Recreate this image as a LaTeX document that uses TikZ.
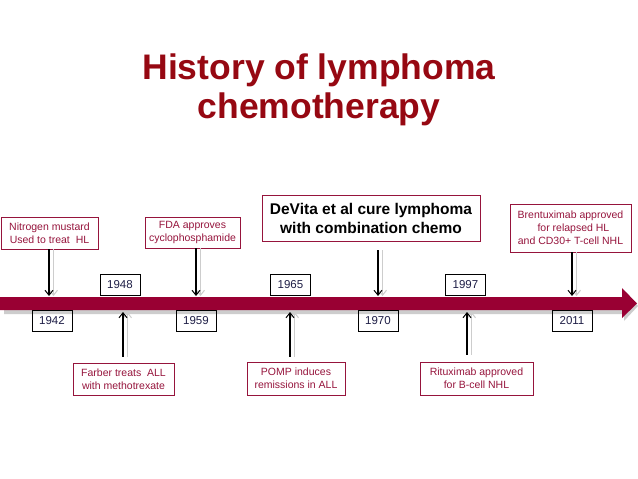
\documentclass[tikz,border=0pt]{standalone}
\usepackage{fontspec}
\setmainfont{Liberation Sans}
\usetikzlibrary{arrows.meta}
\definecolor{titlered}{RGB}{150,8,18}
\definecolor{barred}{RGB}{153,0,51}
\definecolor{evred}{RGB}{150,20,60}
\definecolor{yearblue}{RGB}{30,30,70}
\definecolor{shadowgray}{RGB}{205,205,205}
\tikzset{
  evbox/.style={draw=evred, line width=0.9pt, text=evred, inner sep=0pt, align=center,
    font=\fontsize{10.5}{13}\selectfont},
  yearbox/.style={draw=black, line width=0.9pt, text=yearblue, inner sep=0pt,
    minimum width=40pt, minimum height=21pt, font=\fontsize{11.5}{13}\selectfont},
  blackarrow/.style={draw=black, line width=1.8pt, -{Straight Barb[length=5pt,width=8pt,line width=1pt]}},
  grayarrow/.style={draw=shadowgray, line width=1.8pt, -{Straight Barb[length=5pt,width=8pt,line width=1pt]}},
  titlefont/.style={text=titlered, font=\fontsize{35.5}{39}\selectfont\bfseries, inner sep=0pt}
}
\begin{document}
\begin{tikzpicture}[x=1pt,y=-1pt]
\useasboundingbox (0,0) rectangle (638,479);
\fill[white] (0,0) rectangle (638,479);
% title
\node[titlefont, anchor=base] (title1) at (319,79) {History of lymphoma};
\node[titlefont, anchor=base] (title2) at (319,118) {chemotherapy};
% timeline bar with shadow
\fill[shadowgray] (4,309) -- (624,309) -- (624,321) -- (638,306) -- (626,292) -- (626,314) -- (4,314) -- cycle;
\fill[barred] (0,297) -- (622,297) -- (622,288) -- (637,303.5) -- (622,318) -- (622,310) -- (0,310) -- cycle;
% event boxes
\node[evbox, minimum width=97pt, minimum height=32pt] (nitro) at (49.5,233) {Nitrogen mustard\\Used to treat\ \ HL};
\node[evbox, minimum width=95pt, minimum height=31pt] (fda) at (192.5,232.5) {FDA approves\\cyclophosphamide};
\node[evbox, minimum width=218pt, minimum height=46pt, text=black, font=\fontsize{15.5}{19}\selectfont\bfseries] (devita) at (371,218) {DeVita et al cure lymphoma\\with combination chemo};
\node[evbox, minimum width=121pt, minimum height=48pt] (brent) at (570.5,228) {Brentuximab approved\\\ \ for relapsed HL\\and CD30+ T-cell NHL};
\node[evbox, minimum width=101pt, minimum height=32pt] (farber) at (123.5,379) {Farber treats\ \ ALL\\with methotrexate};
\node[evbox, minimum width=98pt, minimum height=33pt] (pomp) at (296,378.5) {POMP induces\\remissions in ALL};
\node[evbox, minimum width=113pt, minimum height=33pt] (ritux) at (476.5,378.5) {Rituximab approved\\for B-cell NHL};
% year boxes
\node[yearbox] (y1942) at (52,320.5) {1942};
\node[yearbox] (y1948) at (120,284.5) {1948};
\node[yearbox] (y1959) at (196,320.5) {1959};
\node[yearbox] (y1965) at (290.5,285) {1965};
\node[yearbox] (y1970) at (378,321) {1970};
\node[yearbox] (y1997) at (465.5,285) {1997};
\node[yearbox] (y2011) at (572,321) {2011};
% arrow end points on the bar
\coordinate (p1) at (49,296);
\coordinate (p2) at (196,296);
\coordinate (p3) at (378,296);
\coordinate (p4) at (572,296);
\coordinate (q1) at (123,312);
\coordinate (q2) at (290,312);
\coordinate (q3) at (467,312);
% shadows
\begin{scope}[transform canvas={xshift=4.5pt}]
\draw[grayarrow] (nitro.south -| p1) -- (p1);
\draw[grayarrow] (fda.south -| p2) -- (p2);
\draw[grayarrow, shorten <=9pt] (devita.south -| p3) -- (p3);
\draw[grayarrow] (brent.south -| p4) -- (p4);
\draw[grayarrow, shorten <=6pt] (farber.north -| q1) -- (q1);
\draw[grayarrow, shorten <=5pt] (pomp.north -| q2) -- (q2);
\draw[grayarrow, shorten <=7pt] (ritux.north -| q3) -- (q3);
\end{scope}
% arrows
\draw[blackarrow] (nitro.south -| p1) -- (p1);
\draw[blackarrow] (fda.south -| p2) -- (p2);
\draw[blackarrow, shorten <=9pt] (devita.south -| p3) -- (p3);
\draw[blackarrow] (brent.south -| p4) -- (p4);
\draw[blackarrow, shorten <=6pt] (farber.north -| q1) -- (q1);
\draw[blackarrow, shorten <=5pt] (pomp.north -| q2) -- (q2);
\draw[blackarrow, shorten <=7pt] (ritux.north -| q3) -- (q3);
\end{tikzpicture}
\end{document}
